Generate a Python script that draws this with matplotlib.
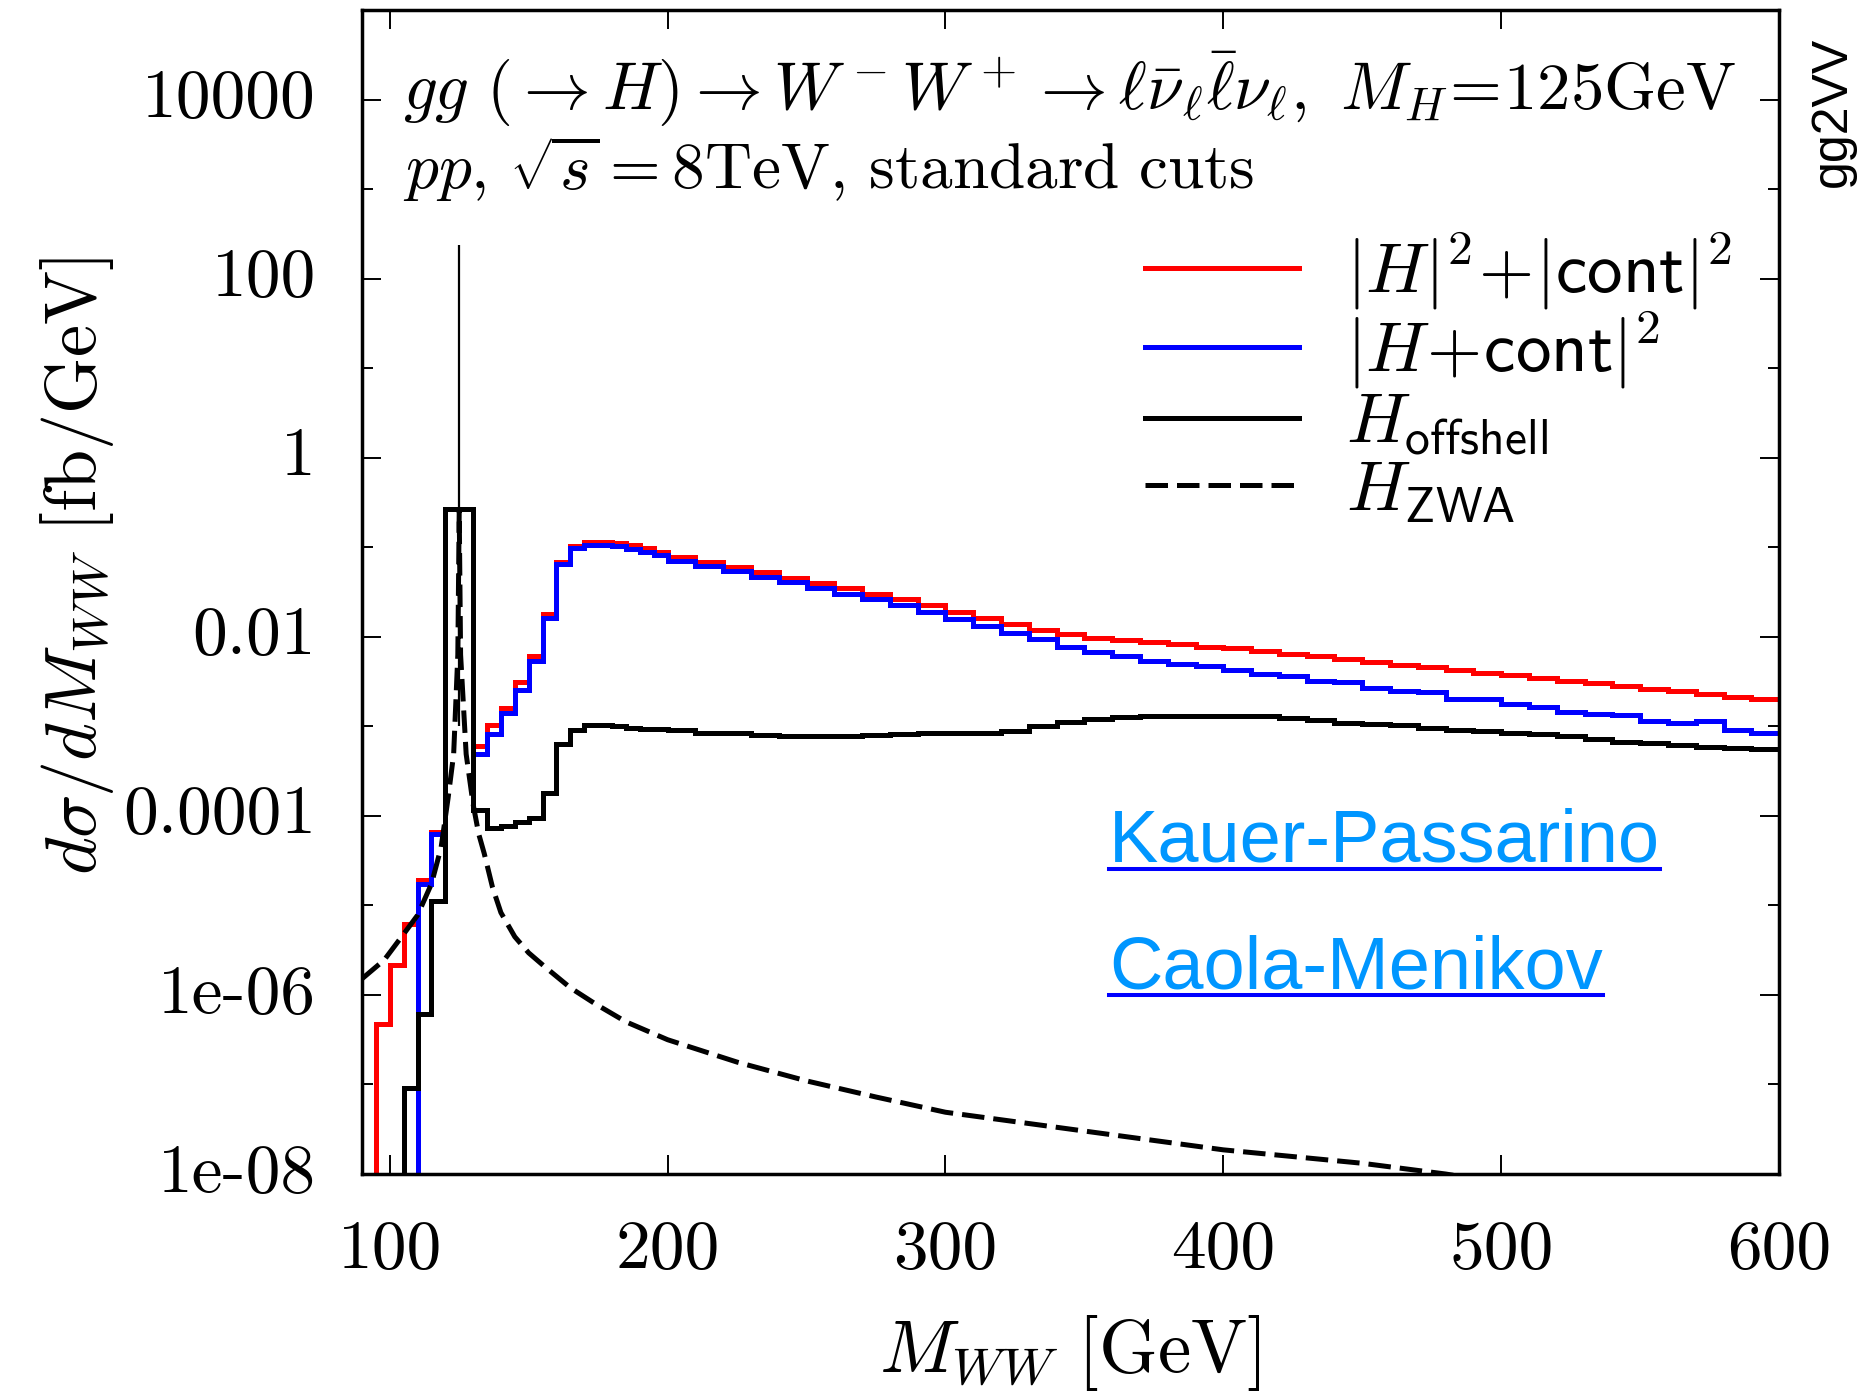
import numpy as np
import matplotlib.pyplot as plt
from matplotlib.ticker import FixedLocator, NullFormatter, NullLocator
from matplotlib.lines import Line2D

plt.rcParams['mathtext.fontset'] = 'cm'

# histogram bins: 5 GeV up to 200, 10 GeV above
bin_edges = list(range(90, 200, 5)) + list(range(200, 601, 10))

# log10 of d sigma / dM_WW [fb/GeV] per bin (-10 = off scale)
red_log = [-10, -6.32, -5.67, -5.21, -4.72, -4.18, -0.575, -0.575, -3.22, -2.99, -2.79,
           -2.51, -2.21, -1.74, -1.17, -0.99, -0.94, -0.94, -0.95, -0.98, -1.01, -1.05,
           -1.11, -1.17, -1.22, -1.28, -1.34, -1.40, -1.46, -1.52, -1.58, -1.65,
           -1.72, -1.79, -1.86, -1.92, -1.97, -2.01, -2.04, -2.06, -2.08, -2.11,
           -2.13, -2.16, -2.19, -2.22, -2.25, -2.28, -2.31, -2.34, -2.37, -2.40,
           -2.43, -2.46, -2.49, -2.52, -2.55, -2.58, -2.61, -2.64, -2.67, -2.70]
blue_log = [-10, -10, -10, -10, -4.76, -4.20, -0.575, -0.575, -3.31, -3.09, -2.85,
            -2.59, -2.27, -1.79, -1.19, -1.01, -0.97, -0.97, -0.99, -1.02, -1.05, -1.09,
            -1.15, -1.21, -1.27, -1.33, -1.39, -1.45, -1.52, -1.58, -1.65, -1.72,
            -1.80, -1.88, -1.96, -2.03, -2.11, -2.17, -2.22, -2.27, -2.30, -2.33,
            -2.37, -2.42, -2.44, -2.49, -2.51, -2.57, -2.61, -2.62, -2.69, -2.70,
            -2.75, -2.78, -2.84, -2.86, -2.87, -2.94, -2.96, -2.94, -3.04, -3.08]
black_log = [-10, -10, -10, -7.04, -6.21, -4.95, -0.575, -0.575, -3.94, -4.14, -4.11,
             -4.07, -4.02, -3.74, -3.20, -3.04, -2.99, -2.99, -3.00, -3.02, -3.03, -3.03,
             -3.04, -3.07, -3.08, -3.10, -3.11, -3.11, -3.11, -3.10, -3.09, -3.08,
             -3.08, -3.08, -3.05, -3.00, -2.95, -2.92, -2.90, -2.89, -2.88, -2.88,
             -2.88, -2.89, -2.91, -2.93, -2.96, -2.97, -2.99, -3.02, -3.04, -3.05,
             -3.07, -3.09, -3.11, -3.14, -3.17, -3.19, -3.21, -3.23, -3.24, -3.25]

# zero-width approximation curve
zwa_x = [90, 98, 105, 110, 115, 118.5, 121, 123, 124.5, 125, 125.5, 127.5, 130, 132,
         134, 137, 140, 145, 150, 156, 165, 174, 185, 200, 225, 250, 275, 300, 350,
         400, 450, 480, 490]
zwa_log = [-5.82, -5.61, -5.32, -5.11, -4.76, -4.35, -3.80, -3.31, -2.20, -0.60, -2.20,
           -3.31, -3.87, -4.20, -4.42, -4.80, -5.08, -5.35, -5.53, -5.69, -5.92, -6.10,
           -6.30, -6.50, -6.75, -6.96, -7.14, -7.31, -7.52, -7.73, -7.88, -8.00, -8.05]

# narrow on-shell spike at M_H
spike_x = 125
spike_lo, spike_hi = 1e-3, 240

x_ticks = [100, 200, 300, 400, 500, 600]
y_ticks = [1e-8, 1e-6, 1e-4, 1e-2, 1, 100, 1e4]
y_labels = ['1e-08', '1e-06', '0.0001', '0.01', '1', '100', '10000']
y_minor = [1e-7, 1e-5, 1e-3, 1e-1, 10, 1e3, 1e5]

fig = plt.figure(figsize=(18.6, 13.93), dpi=100)
ax = fig.add_axes([0.1946, 0.1572, 0.7619, 0.8356])
ax.set_yscale('log')

lw = 3.6
ax.stairs(10 ** np.array(red_log), bin_edges, baseline=None, color='#ff0000', lw=lw,
          label=r'$|H|^2\!+\!|\mathsf{cont}|^2$')
ax.stairs(10 ** np.array(blue_log), bin_edges, baseline=None, color='#0000ff', lw=lw,
          label=r'$|H\!+\!\mathsf{cont}|^2$')
ax.stairs(10 ** np.array(black_log), bin_edges, baseline=None, color='black', lw=lw,
          label=r'$H_{\mathsf{offshell}}$')
ax.plot(zwa_x, 10 ** np.array(zwa_log), color='black', lw=lw, ls=(0, (4.5, 1.8)),
        label=r'$H_{\mathsf{ZWA}}$')
ax.vlines(spike_x, spike_lo, spike_hi, color='black', lw=1.6)

ax.set_xlim(90, 600)
ax.set_ylim(1e-8, 1e5)

ax.set_xticks(x_ticks)
ax.set_xticklabels([str(v) for v in x_ticks], fontfamily='cmr10', fontsize=50)
ax.xaxis.set_minor_locator(NullLocator())
ax.set_yticks(y_ticks)
ax.set_yticklabels(y_labels, fontfamily='cmr10', fontsize=50, va='center')
ax.yaxis.set_minor_locator(FixedLocator(y_minor))
ax.yaxis.set_minor_formatter(NullFormatter())
ax.tick_params(which='both', direction='in', top=True, right=True, width=1.4)
ax.tick_params(which='major', length=14, pad=33)
ax.tick_params(which='minor', length=8)
for s in ax.spines.values():
    s.set_linewidth(2.5)

fig.text(0.0415, 0.594, r'$d\sigma/dM_{WW}\ \mathrm{[fb/GeV]}$', rotation=90,
         ha='center', va='center', fontsize=52)
fig.text(0.575, 0.029, r'$M_{WW}\ \mathrm{[GeV]}$', ha='center', va='center', fontsize=54)

ax.text(0.029, 0.914, r'$gg\ (\rightarrow H) \rightarrow W^-W^+ \rightarrow \ell\bar{\nu}_\ell\bar{\ell}\nu_\ell,\ M_H\!=\!125\mathrm{GeV}$',
        transform=ax.transAxes, fontsize=48, va='baseline')
ax.text(0.029, 0.846, r'$pp,\,\sqrt{s}=8\mathrm{TeV},\,\mathrm{standard\ cuts}$',
        transform=ax.transAxes, fontsize=47, va='baseline')

ax.legend(loc='upper left', bbox_to_anchor=(0.5526, 0.810), frameon=False, fontsize=51,
          borderpad=0, borderaxespad=0, handlelength=2.17, handletextpad=0.67,
          labelspacing=-0.03)

fig.text(0.9855, 0.92, 'gg2VV', rotation=90, ha='center', va='center', fontsize=36,
         fontfamily='Liberation Sans')

links = []
links.append(fig.text(0.5962, 0.3812, 'Kauer-Passarino', fontsize=53.3, color='#0096ff',
                      fontfamily='Liberation Sans', va='baseline'))
links.append(fig.text(0.5962, 0.2907, 'Caola-Menikov', fontsize=53.3, color='#0096ff',
                      fontfamily='Liberation Sans', va='baseline'))

fig.canvas.draw()
W, H = fig.get_size_inches() * fig.dpi
for t in links:
    bb = t.get_window_extent()
    yb = t.get_position()[1] - 7 / H
    fig.add_artist(Line2D([bb.x0 / W, bb.x1 / W], [yb, yb], color='#0000ff', lw=2.9,
                          transform=fig.transFigure))

fig.savefig('out.png', dpi=100)
